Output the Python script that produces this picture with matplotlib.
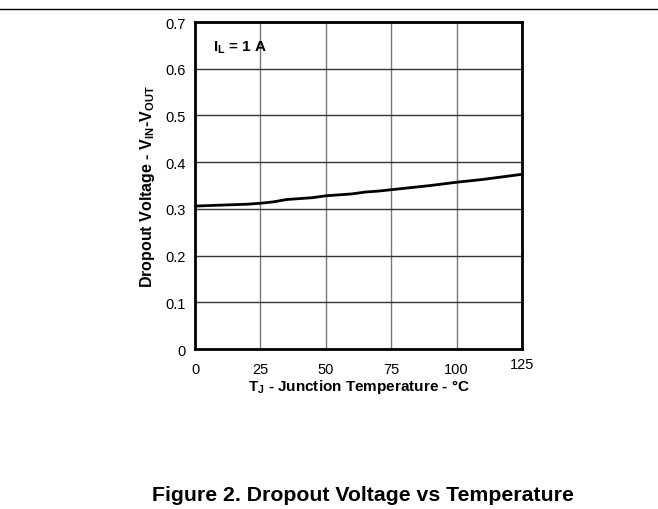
import matplotlib
matplotlib.use("Agg")
import matplotlib.pyplot as plt
from matplotlib.lines import Line2D

plt.rcParams['font.family'] = ['Liberation Sans', 'DejaVu Sans']
plt.rcParams['mathtext.default'] = 'regular'

temperature = [0, 10, 20, 25, 30, 35, 40, 45, 50, 55, 60, 65, 70, 75, 80, 90, 100, 110, 125]
dropout = [0.306, 0.308, 0.310, 0.312, 0.315, 0.320, 0.322, 0.324, 0.328, 0.330, 0.332,
           0.336, 0.338, 0.341, 0.344, 0.350, 0.357, 0.363, 0.374]
x_ticks = [0, 25, 50, 75, 100, 125]
y_ticks = [0, 0.1, 0.2, 0.3, 0.4, 0.5, 0.6, 0.7]
y_tick_labels = ['0', '0.1', '0.2', '0.3', '0.4', '0.5', '0.6', '0.7']

fig = plt.figure(figsize=(6.58, 5.10), dpi=100)
ax = fig.add_axes([0.2964, 0.3137, 0.4970, 0.6412])

ax.plot(temperature, dropout, color='black', lw=2.0, zorder=3)
ax.set_xlim(0, 125)
ax.set_ylim(0, 0.7)
ax.set_xticks(x_ticks)
ax.set_xticklabels([str(t) for t in x_ticks])
ax.set_yticks(y_ticks)
ax.set_yticklabels(y_tick_labels)
ax.tick_params(axis='both', length=0, labelsize=10.5)
ax.tick_params(axis='x', pad=9)
ax.tick_params(axis='y', pad=7)
# raise last x tick label slightly as in reference
lbls = ax.get_xticklabels()
lbls[-1].set_y(0.015)

ax.xaxis.grid(True, color='#777777', lw=1.0)
ax.yaxis.grid(True, color='#333333', lw=1.0)
ax.set_axisbelow(True)
for s in ax.spines.values():
    s.set_linewidth(2.0)
    s.set_color('black')

ax.set_xlabel('T$_J$ - Junction Temperature - °C', fontsize=11, fontweight='bold', labelpad=1)
ax.set_ylabel('Dropout Voltage - V$_{IN}$-V$_{OUT}$', fontsize=11.5, fontweight='bold', labelpad=6)
ax.text(6.9, 0.646, 'I$_L$ = 1 A', fontsize=11, fontweight='bold', va='center', ha='left')

fig.add_artist(Line2D([0, 1], [0.981, 0.981], transform=fig.transFigure, color='black', lw=1.0))
fig.text(0.552, 0.029, 'Figure 2. Dropout Voltage vs Temperature', fontsize=15.3,
         fontweight='bold', ha='center', va='center')

fig.savefig('out.png', dpi=100)
